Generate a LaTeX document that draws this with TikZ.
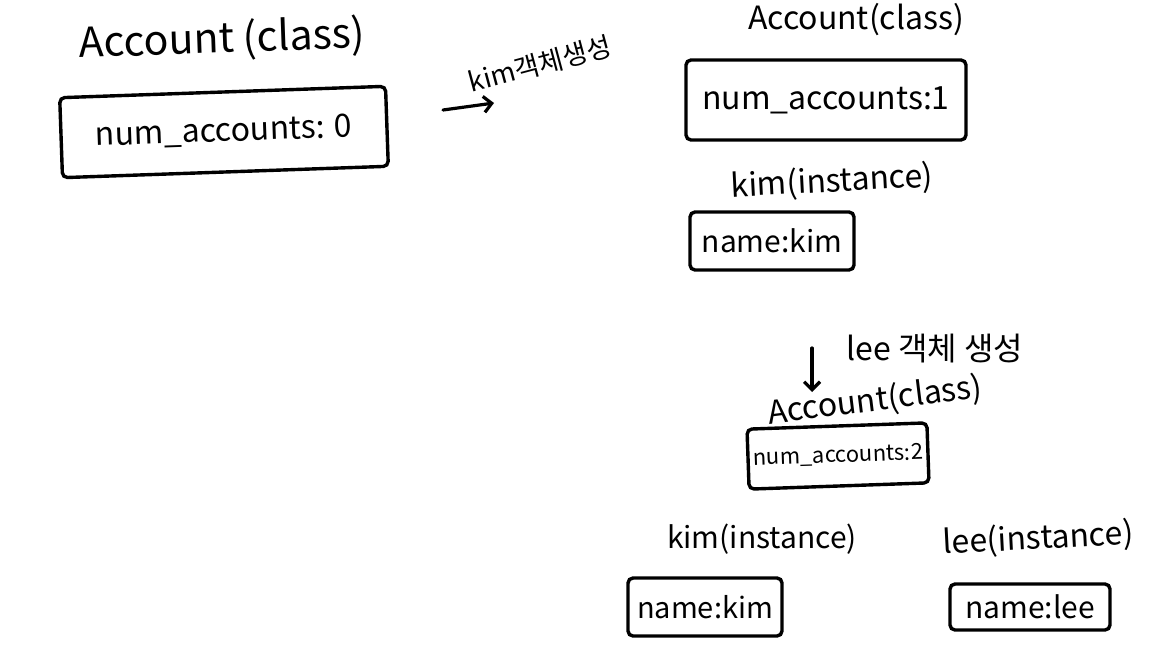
\documentclass[tikz,border=0pt]{standalone}
\usepackage{fontspec}
\setmainfont{Noto Sans CJK KR}
\usetikzlibrary{arrows.meta}
\tikzset{
  lbl/.style={inner sep=0pt, font=\fontsize{#1}{#1}\selectfont},
  box/.style={draw=black, line width=3.4pt, rounded corners=5pt, inner sep=0pt, font=\fontsize{#1}{#1}\selectfont},
  hand/.style={line width=3.2pt, line cap=round, -{Straight Barb[length=8pt,width=16pt]}}
}
\begin{document}
\begin{tikzpicture}[x=1pt,y=-1pt]
\useasboundingbox (0,0) rectangle (1150,664);
% left: before creation
\node[lbl=41, rotate=2] (t1) at (222,40) {Account (class)};
\node[box=32, minimum width=326pt, minimum height=80pt, rotate=2] (b1) at (224,132) {num\_accounts: 0};
% arrow: kim object creation
\node[lbl=27, rotate=15] (k1) at (540,64) {kim객체생성};
\coordinate (a1s) at (443,110);
\coordinate (a1e) at (494,103);
\draw[hand] (a1s) -- (a1e);
% top right
\node[lbl=32] (t2) at (856,20) {Account(class)};
\node[box=32, minimum width=280pt, minimum height=80pt] (b2) at (826,100) {num\_accounts:1};
\node[lbl=32, rotate=3] (t3) at (832,182) {kim(instance)};
\node[box=30, minimum width=164pt, minimum height=58pt] (b3) at (772,241) {name:kim};
% lee creation
\coordinate (a2s) at (812,348);
\coordinate (a2e) at (812,392);
\draw[hand] (a2s) -- (a2e);
\node[lbl=32] (k2) at (935,349) {lee 객체 생성};
\node[lbl=32, rotate=7] (t4) at (875,401) {Account(class)};
\node[box=22, minimum width=180pt, minimum height=60pt, rotate=2] (b4) at (838,456) {num\_accounts:2};
% bottom instances
\node[lbl=30] (t5) at (762,539) {kim(instance)};
\node[box=29, minimum width=154pt, minimum height=58pt] (b5) at (705,607) {name:kim};
\node[lbl=32, rotate=3] (t6) at (1038,539) {lee(instance)};
\node[box=30, minimum width=160pt, minimum height=46pt] (b6) at (1030,607) {name:lee};
\end{tikzpicture}
\end{document}
